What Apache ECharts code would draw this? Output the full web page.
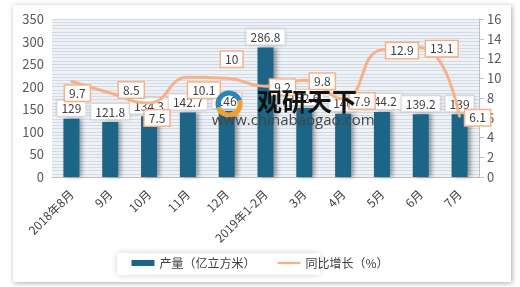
<!DOCTYPE html>
<html><head><meta charset="utf-8">
<script src="https://cdn.jsdelivr.net/npm/echarts@6/dist/echarts.min.js"></script>
<style>html,body{margin:0;padding:0;background:#fff;}#c{width:520px;height:287px;}</style>
</head><body><div id="c"></div>
<script>
var categories = ['2018年8月','9月','10月','11月','12月','2019年1-2月','3月','4月','5月','6月','7月'];
var output = [129, 121.8, 134.3, 142.7, 146, 286.8, 152.6, 140, 144.2, 139.2, 139];
var growth = [9.7, 8.5, 7.5, 10.1, 10, 9.2, 9.8, 7.9, 12.9, 13.1, 6.1];
var leftTicks = [0, 350, 50];
var rightTicks = [0, 16, 2];

// label centre offsets (px) from each line point
var lineLabelOff = [[6,12],[21,-3],[8,15],[16,13],[5,-19],[17,1],[18,1],[19,2],[20,1],[21,1],[18,1]];

var font = '"Noto Sans CJK SC", "Open Sans", sans-serif';
var chart = echarts.init(document.getElementById('c'));
var lineData = growth.map(function(v,i){
  return {value:v, label:{position:[lineLabelOff[i][0]+1, lineLabelOff[i][1]+1], align:'center', verticalAlign:'middle'}};
});
chart.setOption({
  backgroundColor: '#fff',
  textStyle:{fontFamily:font},
  graphic: [
    {type:'rect', shape:{x:13,y:5,width:498,height:277}, style:{fill:'#fff', shadowBlur:5, shadowColor:'rgba(0,0,0,0.35)', shadowOffsetX:1, shadowOffsetY:1}, z:-10},
    {type:'rect', shape:{x:117,y:253,width:203,height:22}, style:{fill:'#fff', shadowBlur:6, shadowColor:'rgba(0,0,0,0.18)', shadowOffsetY:0}, z:-5},
    {type:'arc', shape:{cx:229,cy:104,r:11,startAngle:Math.PI*0.9,endAngle:Math.PI*1.9}, style:{stroke:'#2a86b8',lineWidth:5,fill:null}, z:100},
    {type:'arc', shape:{cx:229,cy:104,r:11,startAngle:-Math.PI*0.1,endAngle:Math.PI*0.9}, style:{stroke:'#f0a030',lineWidth:5,fill:null}, z:100},
    {type:'text', left:257, top:89, style:{text:'观研天下', font:'bold 25px "Noto Sans CJK SC"', fill:'#111'}, z:100},
    {type:'text', left:212, top:113, style:{text:'www.chinabaogao.com', font:'15px "Open Sans", sans-serif', fill:'#444'}, z:100}
  ],
  legend: {
    bottom: 13, left: 'center', itemGap: 22, itemWidth: 23, itemHeight: 6,
    textStyle:{fontSize:12, color:'#404040', fontFamily:font},
    data:[{name:'产量（亿立方米）', icon:'rect', itemStyle:{color:'#1d6587'}},
          {name:'同比增长（%）', icon:'path://M0,2 L20,2 L20,4 L0,4 Z', itemStyle:{color:'#f7b189', opacity:1}}]
  },
  grid: {left:52, right:41, top:19, bottom:110, show:true, backgroundColor:'#eef2f7', borderWidth:0},
  xAxis: {
    type:'category', data:categories,
    axisLine:{lineStyle:{color:'#bfbfbf'}}, axisTick:{show:false},
    axisLabel:{rotate:45, fontSize:12, color:'#404040', interval:0, margin:15}
  },
  yAxis: [
    {type:'value', min:leftTicks[0], max:leftTicks[1], interval:leftTicks[2],
     axisLine:{show:false}, axisTick:{show:false},
     axisLabel:{fontSize:13, color:'#595959', margin:8},
     splitLine:{lineStyle:{color:'#cfd8e2', width:1}},
     minorTick:{show:false, splitNumber:7},
     minorSplitLine:{show:true, lineStyle:{color:'#d3dbe5', width:1}}},
    {type:'value', min:rightTicks[0], max:rightTicks[1], interval:rightTicks[2], position:'right',
     axisLine:{show:true, lineStyle:{color:'#bfbfbf'}}, axisTick:{show:true, length:5, lineStyle:{color:'#bfbfbf'}},
     axisLabel:{fontSize:13, color:'#595959', margin:8}, splitLine:{show:false}}
  ],
  series: [
    {name:'产量（亿立方米）', type:'bar', data:output, barWidth:16, z:2,
     itemStyle:{color:'#1d6587', shadowColor:'rgba(0,0,0,0.35)', shadowBlur:4, shadowOffsetX:3},
     label:{show:true, position:'top', distance:3, fontSize:12, color:'#404040', backgroundColor:'#fff',
            borderColor:'#e0e0e0', borderWidth:1, padding:[2,4,1,4], shadowColor:'rgba(0,0,0,0.15)', shadowBlur:3}},
    {name:'同比增长（%）', type:'line', yAxisIndex:1, data:lineData, smooth:0.5, symbol:'circle', symbolSize:2, showSymbol:true, z:3,
     lineStyle:{color:'#f7b189', width:3}, itemStyle:{color:'#f7b189'},
     labelLayout:{hideOverlap:false},
     label:{show:true, fontSize:12, color:'#404040', backgroundColor:'#fff', borderColor:'#f7b189', borderWidth:1.5, padding:[2,4,1,4]}}
  ]
});
</script></body></html>
